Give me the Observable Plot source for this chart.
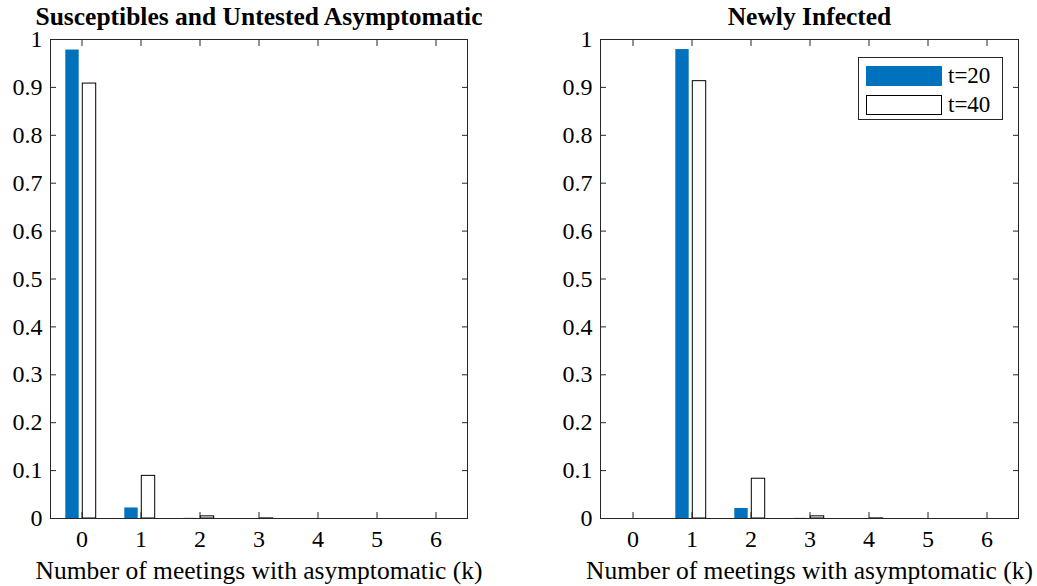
<!DOCTYPE html>
<html>
<head>
<meta charset="utf-8">
<script src="https://cdn.jsdelivr.net/npm/d3@7"></script>
<script src="https://cdn.jsdelivr.net/npm/@observablehq/plot@0.6"></script>
<style>
  html, body { margin: 0; padding: 0; background: #fff; }
  #chart { position: relative; width: 1037px; height: 586px; font-family: "Liberation Serif", "Times New Roman", serif; }
  #chart svg { position: absolute; top: 0; }
  .legend { position: absolute; left: 858px; top: 57px; width: 145px; height: 63px; border: 1px solid #262626; background: #fff; box-sizing: border-box; }
  .legend .row { position: absolute; left: 7px; height: 20px; display: flex; align-items: center; }
  .legend .sw { width: 76px; height: 20px; box-sizing: border-box; }
  .legend .lab { margin-left: 6px; font-size: 23px; color: #000; }
</style>
</head>
<body>
<div id="chart"></div>
<script>
// ---- data ----
const kValues = [0, 1, 2, 3, 4, 5, 6];
const seriesNames = ["t=20", "t=40"];
const yTicks = [0, 0.1, 0.2, 0.3, 0.4, 0.5, 0.6, 0.7, 0.8, 0.9, 1];
const leftTitle = "Susceptibles and Untested Asymptomatic";
const rightTitle = "Newly Infected";
const xLabel = "Number of meetings with asymptomatic (k)";
// Susceptibles and Untested Asymptomatic
const leftT20 = [0.978, 0.022, 0.0003, 0, 0, 0, 0];
const leftT40 = [0.908, 0.089, 0.0045, 0.0002, 0, 0, 0];
// Newly Infected
const rightT20 = [0, 0.979, 0.021, 0.0003, 0, 0, 0];
const rightT40 = [0, 0.913, 0.083, 0.0045, 0.0002, 0, 0];

const blue = "#0072BD";
const axisColor = "#262626";

function panel(title, v20, v40, width, marginLeft, marginRight) {
  const d20 = kValues.map((k, i) => ({k, v: v20[i]}));
  const d40 = kValues.map((k, i) => ({k, v: v40[i]}));
  const fmt = d => (d === 0 ? "0" : d === 1 ? "1" : String(d));
  return Plot.plot({
    width, height: 586,
    marginLeft, marginRight, marginTop: 39, marginBottom: 68,
    style: { fontFamily: "Liberation Serif, Times New Roman, serif", fontSize: "24px", color: "#000", background: "transparent", overflow: "visible" },
    x: { type: "band", domain: kValues, padding: 0, label: null },
    y: { domain: [0, 1], label: null },
    marks: [
      Plot.barY(d20, { x: "k", y: "v", fill: blue, dx: -9.5, insetLeft: 22.8, insetRight: 22.8 }),
      Plot.barY(d40, { x: "k", y: "v", fill: "white", stroke: "black", strokeWidth: 1, dx: 7.5, insetLeft: 22.8, insetRight: 22.8 }),
      Plot.frame({ stroke: axisColor, strokeWidth: 1 }),
      Plot.axisX({ anchor: "bottom", tickSize: -6, stroke: axisColor, text: null }),
      Plot.axisX({ anchor: "top", tickSize: -6, stroke: axisColor, text: null }),
      Plot.axisX({ anchor: "bottom", tickSize: 0, tickPadding: 11, fill: "#000", fontSize: 24, label: null }),
      Plot.axisY({ anchor: "left", ticks: yTicks, tickSize: -6, stroke: axisColor, text: null }),
      Plot.axisY({ anchor: "right", ticks: yTicks, tickSize: -6, stroke: axisColor, text: null }),
      Plot.axisY({ anchor: "left", ticks: yTicks, tickSize: 0, tickPadding: 8, tickFormat: fmt, fill: "#000", fontSize: 24, label: null }),
      Plot.text([title], { text: d => d, frameAnchor: "top", lineAnchor: "middle", dy: -23, fontWeight: "bold", fontSize: 25.5, fill: "#000" }),
      Plot.text([xLabel], { text: d => d, frameAnchor: "bottom", lineAnchor: "middle", dy: 52, fontSize: 25.5, fill: "#000" })
    ]
  });
}

const chart = document.getElementById("chart");
const left = panel(leftTitle, leftT20, leftT40, 518, 50, 51);
left.style.left = "0px";
chart.appendChild(left);
const right = panel(rightTitle, rightT20, rightT40, 519, 82, 19);
right.style.left = "518px";
chart.appendChild(right);

// legend
const legend = document.createElement("div");
legend.className = "legend";
seriesNames.forEach((name, i) => {
  const row = document.createElement("div");
  row.className = "row";
  row.style.top = (i === 0 ? 8 : 37) + "px";
  const sw = document.createElement("div");
  sw.className = "sw";
  sw.style.background = i === 0 ? blue : "#fff";
  sw.style.border = i === 0 ? "1px solid " + blue : "1px solid #000";
  const lab = document.createElement("span");
  lab.className = "lab";
  lab.textContent = name;
  row.appendChild(sw);
  row.appendChild(lab);
  legend.appendChild(row);
});
chart.appendChild(legend);
</script>
</body>
</html>
